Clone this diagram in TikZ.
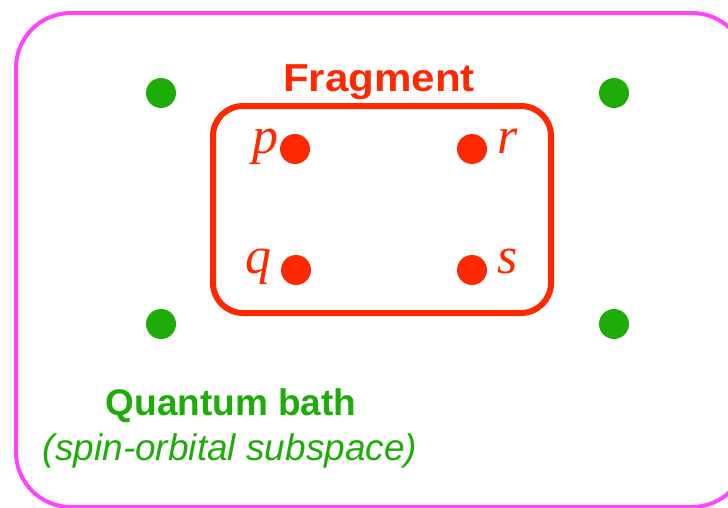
\documentclass[tikz,border=0pt]{standalone}
\usepackage{fontspec}
\setmainfont{Liberation Serif}
\setsansfont{Liberation Sans}
\definecolor{frag}{RGB}{255,40,0}
\definecolor{bath}{RGB}{30,172,8}
\definecolor{outer}{RGB}{255,68,255}
\begin{document}
\begin{tikzpicture}[x=1pt,y=-1pt,
  reddot/.style={circle,fill=frag,inner sep=0pt,minimum size=30pt},
  greendot/.style={circle,fill=bath,inner sep=0pt,minimum size=30pt},
  orblabel/.style={text=frag,anchor=base,inner sep=0pt,font=\fontsize{52}{52}\selectfont\itshape}]
\useasboundingbox (0,0) rectangle (728,507);
\clip (0,0) rectangle (728,507);
\node[draw=outer,line width=4pt,rounded corners=55pt,minimum width=731pt,minimum height=494pt,anchor=north west,inner sep=0pt] (bathbox) at (14,11) {};
\node[draw=frag,line width=6pt,rounded corners=30pt,minimum width=338pt,minimum height=207pt,anchor=north west,inner sep=0pt] (fragbox) at (210,103) {};
\node[text=frag,font=\fontsize{39}{39}\selectfont\sffamily\bfseries,anchor=base] (fragtitle) at (379,91) {\scalebox{1.08}[1]{Fragment}};
\node[reddot] (p) at (295,149) {};
\node[reddot] (r) at (472,149) {};
\node[reddot] (q) at (296,270) {};
\node[reddot] (s) at (472,270) {};
\node[orblabel] (pl) at (265,153) {p};
\node[orblabel] (rl) at (508,153) {r};
\node[orblabel] (ql) at (258,273) {q};
\node[orblabel] (sl) at (508,273) {s};
\node[greendot] (g1) at (161,93) {};
\node[greendot] (g2) at (614,93) {};
\node[greendot] (g3) at (161,324) {};
\node[greendot] (g4) at (614,324) {};
\node[text=bath,font=\fontsize{37}{37}\selectfont\sffamily\bfseries,anchor=base] (bathtitle) at (231,415) {Quantum bath};
\node[text=bath,font=\fontsize{37}{37}\selectfont\sffamily\itshape,anchor=base] (bathsub) at (230,460) {(spin-orbital subspace)};
\end{tikzpicture}
\end{document}
